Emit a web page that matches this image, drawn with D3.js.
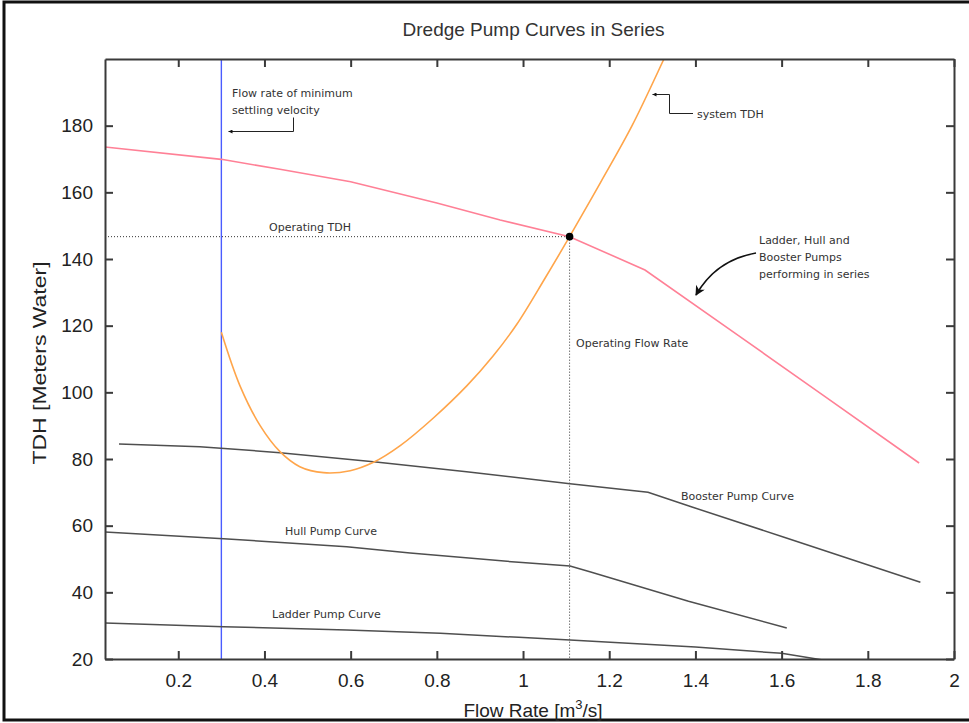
<!DOCTYPE html>
<html>
<head>
<meta charset="utf-8">
<script src="https://cdn.jsdelivr.net/npm/d3@7"></script>
<style>
  html, body { margin: 0; padding: 0; background: #fff; }
  svg { display: block; }
  .tick text { font-family: "Liberation Sans", Arial, sans-serif; fill: #222; }
  .ann { font-family: "DejaVu Sans", sans-serif; font-size: 11px; fill: #333; }
</style>
</head>
<body>
<svg id="chart" width="969" height="723"></svg>
<script>
// ---------------- DATA ----------------
const flowLadder = [0.03, 0.305, 0.591, 0.808, 0.99, 1.109, 1.4, 1.6, 1.72];
const tdhLadder  = [30.8, 29.7, 28.7, 27.7, 26.5, 25.7, 23.6, 21.7, 19.2];

const flowHull = [0.03, 0.305, 0.591, 0.738, 0.99, 1.109, 1.155, 1.384, 1.612];
const tdhHull  = [58.1, 56.1, 53.7, 51.8, 49.0, 47.9, 46.2, 37.3, 29.3];

const flowBooster = [0.0625, 0.25, 0.436, 0.653, 0.869, 1.109, 1.29, 1.392, 1.611, 1.922];
const tdhBooster  = [84.5, 83.7, 81.9, 79.2, 76.2, 72.6, 70.0, 65.6, 56.3, 43.0];

const flowSeries = [0.03, 0.30, 0.436, 0.6, 0.8, 0.947, 1.108, 1.283, 1.5, 1.7, 1.919];
const tdhSeries  = [173.6, 169.9, 166.9, 163.2, 156.8, 151.7, 146.7, 136.7, 117.0, 98.8, 78.8];

const flowSystem = [0.30, 0.343, 0.39, 0.436, 0.482, 0.537, 0.599, 0.653, 0.715, 0.792, 0.87, 0.93, 0.986, 1.05, 1.108, 1.18, 1.253, 1.327, 1.345];
const tdhSystem  = [118, 102, 90, 82.2, 77.7, 75.9, 76.5, 79.0, 84.0, 92.3, 102, 110.8, 120.5, 134, 146.7, 163, 180, 200, 205];

const minSettlingFlow = 0.3;
const operatingFlow = 1.108;
const operatingTDH = 146.7;

const xTicks = [0.2, 0.4, 0.6, 0.8, 1.0, 1.2, 1.4, 1.6, 1.8, 2.0];
const xTickLabels = ["0.2", "0.4", "0.6", "0.8", "1", "1.2", "1.4", "1.6", "1.8", "2"];
const yTicks = [20, 40, 60, 80, 100, 120, 140, 160, 180];
const yTickLabels = ["20", "40", "60", "80", "100", "120", "140", "160", "180"];

const titleText = "Dredge Pump Curves in Series";
const yTitle = "TDH [Meters Water]";

// ---------------- LAYOUT ----------------
const W = 969, H = 723;
const L = 105, R = 954, T = 59, B = 659;
const svg = d3.select("#chart");

const x = d3.scaleLinear().domain([0.03, 2]).range([L, R]);
const y = d3.scaleLinear().domain([20, 200]).range([B, T]);

// outer frame
svg.append("rect").attr("x", 4).attr("y", 2).attr("width", W + 10).attr("height", 718)
  .attr("fill", "none").attr("stroke", "#111").attr("stroke-width", 3);

svg.append("defs").append("clipPath").attr("id", "clip")
  .append("rect").attr("x", L).attr("y", T).attr("width", R - L).attr("height", B - T);

const defs = svg.select("defs");
defs.append("marker").attr("id", "arrowSmall").attr("viewBox", "0 0 10 10")
  .attr("refX", 10).attr("refY", 5).attr("markerWidth", 6).attr("markerHeight", 4)
  .attr("markerUnits", "userSpaceOnUse").attr("orient", "auto")
  .append("path").attr("d", "M0,0 L10,5 L0,10 Z").attr("fill", "#111");
defs.append("marker").attr("id", "arrowBig").attr("viewBox", "0 0 10 10")
  .attr("refX", 9).attr("refY", 5).attr("markerWidth", 12).attr("markerHeight", 10)
  .attr("markerUnits", "userSpaceOnUse").attr("orient", "auto")
  .append("path").attr("d", "M0,0 L10,5 L0,10 L3,5 Z").attr("fill", "#111");

// title
svg.append("text").attr("x", 533.5).attr("y", 36).attr("text-anchor", "middle")
  .attr("font-family", "Liberation Sans, Arial, sans-serif").attr("font-size", 19)
  .attr("fill", "#333").attr("textLength", 262).attr("lengthAdjust", "spacingAndGlyphs")
  .text(titleText);

// plot content
const g = svg.append("g").attr("clip-path", "url(#clip)");
const line = d3.line().x(d => x(d[0])).y(d => y(d[1]));
const zip = (a, b) => a.map((v, i) => [v, b[i]]);

// min settling velocity line
g.append("line").attr("x1", x(minSettlingFlow)).attr("x2", x(minSettlingFlow))
  .attr("y1", y(200)).attr("y2", y(20)).attr("stroke", "#4a5cff").attr("stroke-width", 1.4);

// operating dotted guides
g.append("line").attr("x1", x(0.03)).attr("x2", x(operatingFlow))
  .attr("y1", y(operatingTDH)).attr("y2", y(operatingTDH))
  .attr("stroke", "#333").attr("stroke-width", 1).attr("stroke-dasharray", "1,2");
g.append("line").attr("x1", x(operatingFlow)).attr("x2", x(operatingFlow))
  .attr("y1", y(operatingTDH)).attr("y2", y(20))
  .attr("stroke", "#333").attr("stroke-width", 1).attr("stroke-dasharray", "1,2");

const pumpStyle = { stroke: "#4f4f4f", width: 1.5 };
[[flowLadder, tdhLadder], [flowHull, tdhHull], [flowBooster, tdhBooster]].forEach(([fx, fy]) => {
  g.append("path").datum(zip(fx, fy)).attr("d", line).attr("fill", "none")
    .attr("stroke", pumpStyle.stroke).attr("stroke-width", pumpStyle.width);
});
g.append("path").datum(zip(flowSeries, tdhSeries)).attr("d", line).attr("fill", "none")
  .attr("stroke", "#ff8096").attr("stroke-width", 1.6);
g.append("path").datum(zip(flowSystem, tdhSystem))
  .attr("d", d3.line().x(d => x(d[0])).y(d => y(d[1])).curve(d3.curveCatmullRom.alpha(0.5)))
  .attr("fill", "none").attr("stroke", "#ffa54a").attr("stroke-width", 1.6);

// operating point
svg.append("circle").attr("cx", x(operatingFlow)).attr("cy", y(operatingTDH)).attr("r", 3.8).attr("fill", "#000");

// axes
const axStyle = sel => {
  sel.select(".domain").attr("stroke", "#3a3a3a").attr("stroke-width", 2);
  sel.selectAll(".tick line").attr("stroke", "#3a3a3a").attr("stroke-width", 2);
};
svg.append("g").attr("transform", `translate(0,${B})`)
  .call(d3.axisBottom(x).tickValues(xTicks).tickFormat((d, i) => xTickLabels[i])
    .tickSizeInner(-8).tickSizeOuter(0).tickPadding(15))
  .call(axStyle)
  .call(s => s.selectAll("text").attr("font-size", 19));
svg.append("g").attr("transform", `translate(0,${T})`)
  .call(d3.axisTop(x).tickValues(xTicks).tickFormat("").tickSizeInner(-8).tickSizeOuter(0))
  .call(axStyle);
svg.append("g").attr("transform", `translate(${L},0)`)
  .call(d3.axisLeft(y).tickValues(yTicks).tickFormat((d, i) => yTickLabels[i])
    .tickSizeInner(-8).tickSizeOuter(0).tickPadding(12))
  .call(axStyle)
  .call(s => s.selectAll("text").attr("font-size", 19));
svg.append("g").attr("transform", `translate(${R},0)`)
  .call(d3.axisRight(y).tickValues(yTicks).tickFormat("").tickSizeInner(-8).tickSizeOuter(0))
  .call(axStyle);

// axis titles
const xt = svg.append("text").attr("x", 533).attr("y", 717).attr("text-anchor", "middle")
  .attr("font-family", "Liberation Sans, Arial, sans-serif").attr("font-size", 19).attr("fill", "#222");
xt.append("tspan").text("Flow Rate [m");
xt.append("tspan").attr("dy", -8).attr("font-size", 13).text("3");
xt.append("tspan").attr("dy", 8).text("/s]");

svg.append("text").attr("transform", "translate(46,363) rotate(-90)").attr("text-anchor", "middle")
  .attr("font-family", "Liberation Sans, Arial, sans-serif").attr("font-size", 18).attr("fill", "#222")
  .attr("textLength", 203).attr("lengthAdjust", "spacingAndGlyphs")
  .text(yTitle);

// annotations
const annotations = [
  { t: "Flow rate of minimum", x: 232, y: 97 },
  { t: "settling velocity", x: 232, y: 113.5 },
  { t: "system TDH", x: 697, y: 117.5 },
  { t: "Ladder, Hull and", x: 759, y: 243.5 },
  { t: "Booster Pumps", x: 759, y: 260.5 },
  { t: "performing in series", x: 759, y: 277.5 },
  { t: "Operating TDH", x: 269, y: 231 },
  { t: "Operating Flow Rate", x: 576, y: 347 },
  { t: "Booster Pump Curve", x: 681, y: 500 },
  { t: "Hull Pump Curve", x: 285, y: 535 },
  { t: "Ladder Pump Curve", x: 272, y: 618 }
];
svg.selectAll("text.ann").data(annotations).enter().append("text")
  .attr("class", "ann").attr("x", d => d.x).attr("y", d => d.y).text(d => d.t);

// callout arrows
svg.append("path").attr("d", "M293.5,117.5 V131.5 H228.5")
  .attr("fill", "none").attr("stroke", "#222").attr("stroke-width", 1)
  .attr("marker-end", "url(#arrowSmall)");
svg.append("path").attr("d", "M693,113.5 H669.5 V94.5 H652.5")
  .attr("fill", "none").attr("stroke", "#222").attr("stroke-width", 1)
  .attr("marker-end", "url(#arrowSmall)");
svg.append("path").attr("d", "M756,253 Q716,260 696,295")
  .attr("fill", "none").attr("stroke", "#111").attr("stroke-width", 1.6)
  .attr("marker-end", "url(#arrowBig)");
</script>
</body>
</html>
